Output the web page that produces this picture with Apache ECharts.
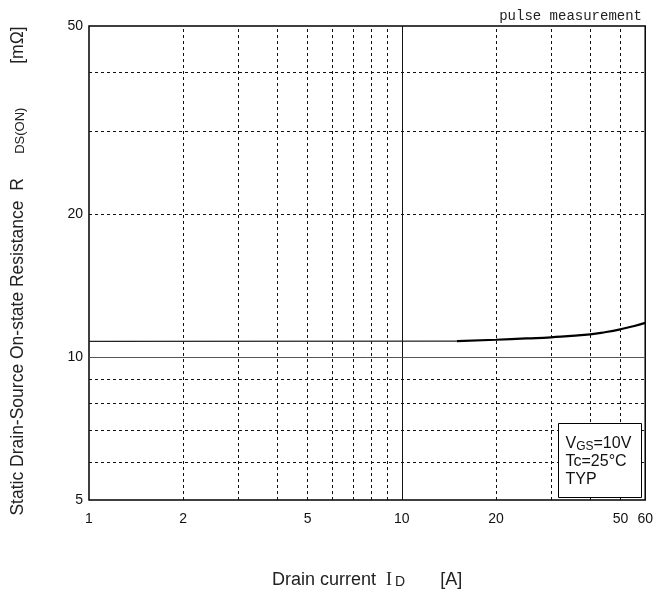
<!DOCTYPE html>
<html><head><meta charset="utf-8">
<script src="https://cdn.jsdelivr.net/npm/echarts@6/dist/echarts.min.js"></script>
<style>html,body{margin:0;padding:0;background:#fff}#c{width:656px;height:594px}</style>
</head><body><div id="c"></div>
<script>
// Data
const flatCurrent = [1, 15];
const flatRds = [10.8, 10.82];
const curveCurrent = [15, 20, 25, 30, 40, 45, 50, 55, 60];
const curveRds = [10.82, 10.89, 10.96, 11.02, 11.18, 11.31, 11.46, 11.63, 11.82];

const xTickLabels = [1, 2, 5, 10, 20, 50, 60];
const yTickLabels = [5, 10, 20, 50];
const xDashedGrid = [2, 3, 4, 5, 6, 7, 8, 9, 20, 30, 40, 50];
const xSolidGrid = [10];
const yDashedGrid = [6, 7, 8, 9, 20, 30, 40];
const ySolidGrid = [10];

const FONT = '"Liberation Sans", Arial, sans-serif';
const dashed = {color: '#111', width: 1, type: [3, 3]};

const markData = []
  .concat(xDashedGrid.map(v => ({xAxis: v, lineStyle: dashed})))
  .concat(xSolidGrid.map(v => ({xAxis: v, lineStyle: {color: '#111', width: 1, type: 'solid'}})))
  .concat(yDashedGrid.map(v => ({yAxis: v, lineStyle: dashed})))
  .concat(ySolidGrid.map(v => ({yAxis: v, lineStyle: {color: '#555', width: 1, type: 'solid'}})));

const chart = echarts.init(document.getElementById('c'), null, {renderer: 'canvas'});
chart.setOption({
  backgroundColor: '#fff',
  animation: false,
  grid: {left: 89, right: 10, top: 26, bottom: 94, show: true, borderColor: '#000', borderWidth: 1.5, backgroundColor: 'transparent'},
  xAxis: {
    type: 'log', logBase: 10, min: 1, max: 60,
    axisLine: {show: false}, axisTick: {show: false}, splitLine: {show: false},
    axisLabel: {customValues: xTickLabels, fontFamily: FONT, fontSize: 14, color: '#111', margin: 12},
    name: 'Drain current  {i|I}{s|D}       [A]',
    nameLocation: 'middle', nameGap: 71,
    nameTextStyle: {fontFamily: FONT, fontSize: 18, color: '#222',
      rich: {i: {fontFamily: '"Liberation Serif", serif', fontSize: 18, color: '#222'},
             s: {fontFamily: FONT, fontSize: 14, color: '#222', verticalAlign: 'bottom', padding: [0, 0, 0, 3]}}}
  },
  yAxis: {
    type: 'log', logBase: 10, min: 5, max: 50,
    axisLine: {show: false}, axisTick: {show: false}, splitLine: {show: false},
    axisLabel: {customValues: yTickLabels, fontFamily: FONT, fontSize: 14, color: '#111', margin: 6},
    name: 'Static Drain-Source On-state Resistance  R     {s|DS(ON)}         [mΩ]',
    nameLocation: 'middle', nameGap: 62, nameRotate: 90,
    nameTextStyle: {fontFamily: FONT, fontSize: 17.5, color: '#222', padding: [0, 16, 0, 0],
      rich: {s: {fontFamily: FONT, fontSize: 13, color: '#222', verticalAlign: 'bottom'}}}
  },
  series: [
    {
      type: 'line', data: flatCurrent.map((x, i) => [x, flatRds[i]]),
      symbol: 'none', lineStyle: {color: '#222', width: 1.3}, z: 5,
      markLine: {silent: true, symbol: 'none', label: {show: false}, data: markData, z: 1}
    },
    {
      type: 'line', data: curveCurrent.map((x, i) => [x, curveRds[i]]),
      symbol: 'none', smooth: true, lineStyle: {color: '#000', width: 2.2}, z: 6
    }
  ],
  graphic: [
    {type: 'text', right: 14, top: 9, z: 100, style: {text: 'pulse measurement', font: '14px "Liberation Mono", monospace', fill: '#222'}},
    {type: 'group', left: 558, top: 423, z: 100, children: [
      {type: 'rect', z: 100, shape: {x: 0, y: 0, width: 83, height: 74}, style: {fill: '#fff', stroke: '#000', lineWidth: 1}},
      {type: 'text', z: 101, x: 7, y: 11, style: {
        text: 'V{s|GS}=10V\nTc=25°C\nTYP', font: '16px ' + FONT, fill: '#111', lineHeight: 18,
        rich: {s: {fontSize: 12, fontFamily: FONT, fill: '#111', verticalAlign: 'bottom', lineHeight: 18}}
      }}
    ]}
  ]
});
</script>
</body></html>
